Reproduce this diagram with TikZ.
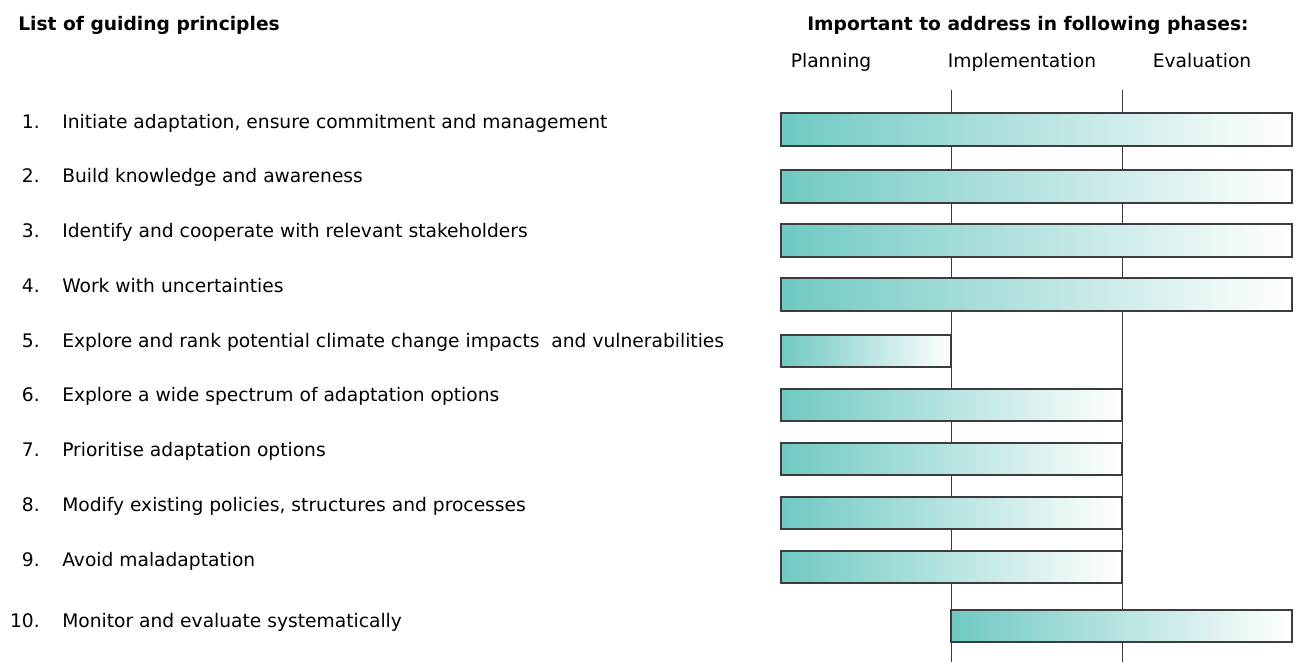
\documentclass[tikz,border=0pt]{standalone}
\usepackage{fontspec}
\setmainfont{DejaVu Sans}
\definecolor{barteal}{RGB}{112,201,195}
\definecolor{barline}{RGB}{60,60,60}
\tikzset{
  heading/.style={font=\fontsize{14pt}{16pt}\selectfont\bfseries, anchor=base west, inner sep=0pt},
  phase/.style={font=\fontsize{14pt}{16pt}\selectfont, anchor=base, inner sep=0pt},
  item/.style={font=\fontsize{14pt}{16pt}\selectfont, anchor=base west, inner sep=0pt},
  num/.style={font=\fontsize{14pt}{16pt}\selectfont, anchor=base east, inner sep=0pt},
  bar/.style={draw=barline, line width=0.9pt, left color=barteal, right color=white},
  divider/.style={draw=barline, line width=0.75pt}
}
\begin{document}
\begin{tikzpicture}[x=0.75pt,y=-0.75pt]
\useasboundingbox (0,0) rectangle (1298,662);
%
\node[heading] (title) at (18,30) {List of guiding principles};
\node[heading] (phases) at (807,30) {Important to address in following phases:};
\node[phase] (plan) at (831,67) {Planning};
\node[phase] (impl) at (1022,67) {Implementation};
\node[phase] (eval) at (1202,67) {Evaluation};
%
\draw[divider] (951,90) -- (951,662);
\draw[divider] (1122,90) -- (1122,662);
%
\node[num] (n1) at (40,128) {1.};
\node[item] (p1) at (62,128) {Initiate adaptation, ensure commitment and management};
\node[num] (n2) at (40,182) {2.};
\node[item] (p2) at (62,182) {Build knowledge and awareness};
\node[num] (n3) at (40,237) {3.};
\node[item] (p3) at (62,237) {Identify and cooperate with relevant stakeholders};
\node[num] (n4) at (40,292) {4.};
\node[item] (p4) at (62,292) {Work with uncertainties};
\node[num] (n5) at (40,347) {5.};
\node[item] (p5) at (62,347) {Explore and rank potential climate change impacts\ \ and vulnerabilities};
\node[num] (n6) at (40,401) {6.};
\node[item] (p6) at (62,401) {Explore a wide spectrum of adaptation options};
\node[num] (n7) at (40,456) {7.};
\node[item] (p7) at (62,456) {Prioritise adaptation options};
\node[num] (n8) at (40,511) {8.};
\node[item] (p8) at (62,511) {Modify existing policies, structures and processes};
\node[num] (n9) at (40,566) {9.};
\node[item] (p9) at (62,566) {Avoid maladaptation};
\node[num] (n10) at (40,627) {10.};
\node[item] (p10) at (62,627) {Monitor and evaluate systematically};
%
\draw[bar] (781,113) rectangle (1292,146);
\draw[bar] (781,170) rectangle (1292,203);
\draw[bar] (781,224) rectangle (1292,257);
\draw[bar] (781,278) rectangle (1292,311);
\draw[bar] (781,335) rectangle (951,367);
\draw[bar] (781,389) rectangle (1122,421);
\draw[bar] (781,443) rectangle (1122,475);
\draw[bar] (781,497) rectangle (1122,529);
\draw[bar] (781,551) rectangle (1122,583);
\draw[bar] (951,610) rectangle (1292,642);
%
\end{tikzpicture}
\end{document}
